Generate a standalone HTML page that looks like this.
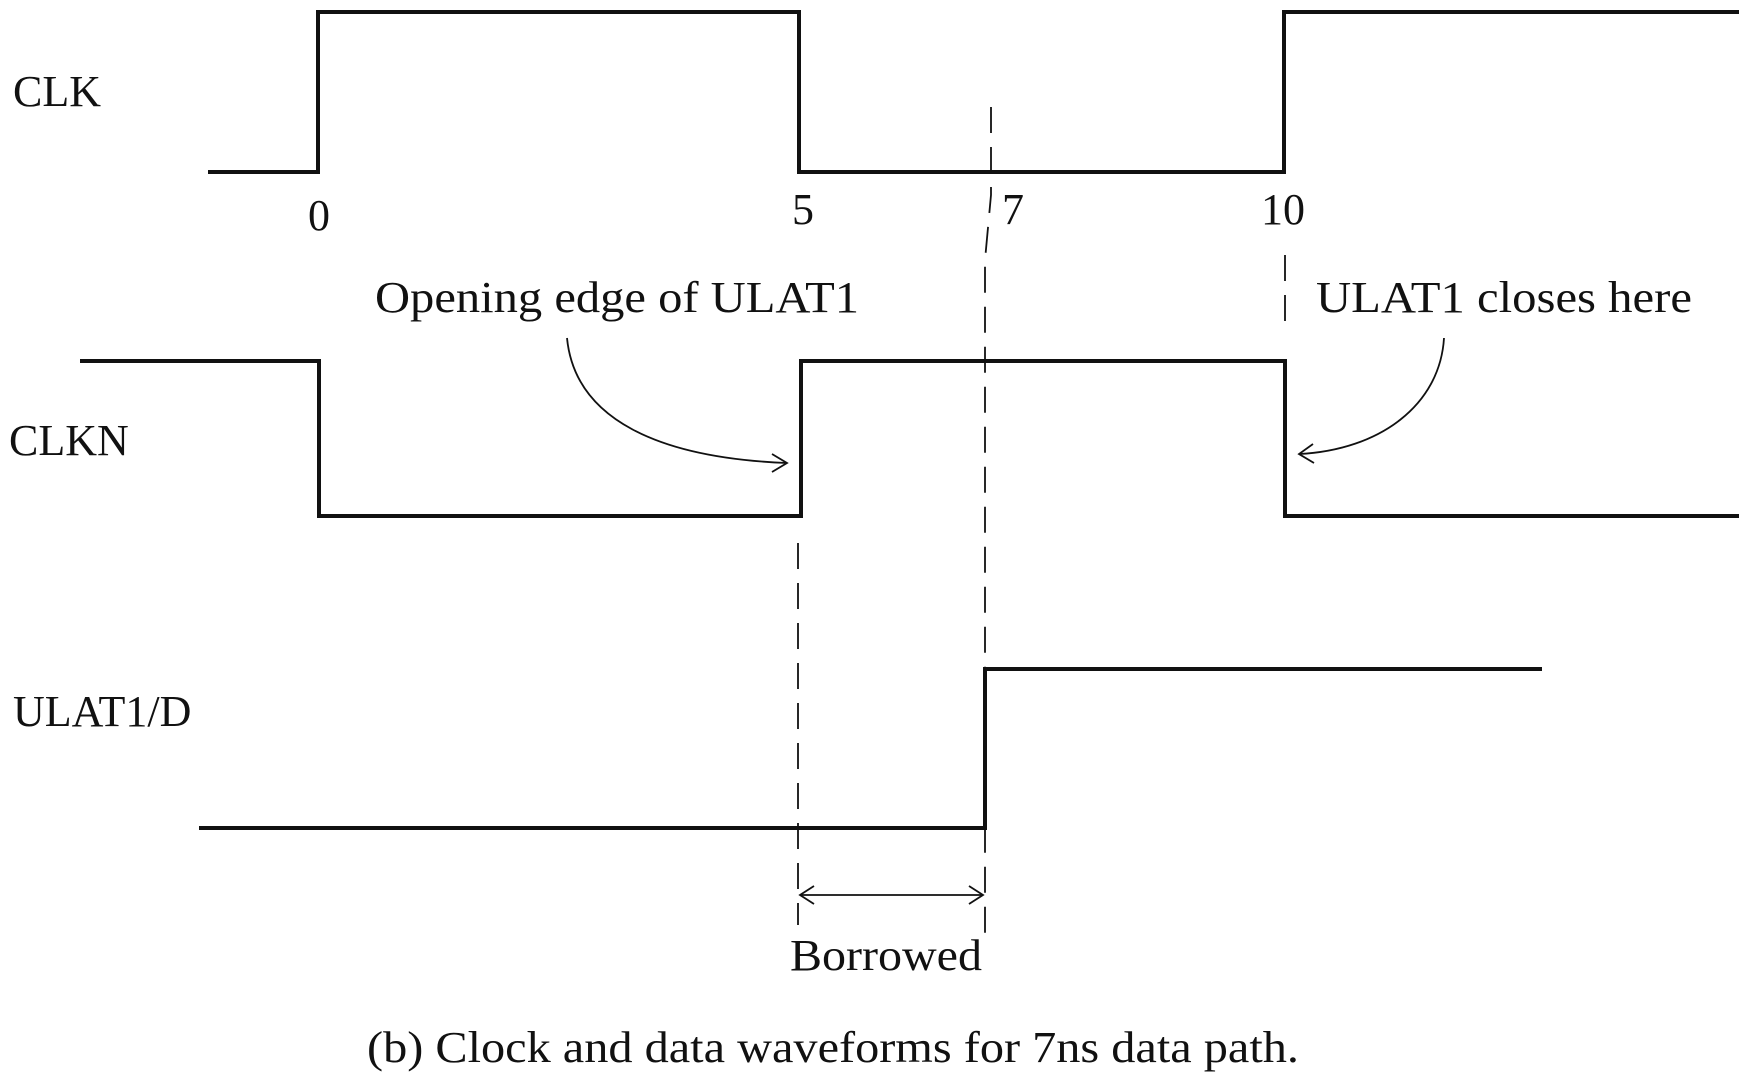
<!DOCTYPE html>
<html><head><style>
html,body{margin:0;padding:0;background:#fff;}
svg{display:block;}
text{font-family:"Liberation Serif",serif;fill:#111;}
</style></head><body>
<svg width="1739" height="1080" viewBox="0 0 1739 1080" xmlns="http://www.w3.org/2000/svg">
<g fill="none" stroke="#111" stroke-width="4">
<polyline points="208,172 318,172 318,12 799,12 799,172 1284,172 1284,12 1739,12"/>
<polyline points="80,361 319,361 319,516 801,516 801,361 1285,361 1285,516 1739,516"/>
<polyline points="199,828 985,828 985,669 1542,669"/>
</g>
<g fill="none" stroke="#111" stroke-width="1.8" stroke-dasharray="26,14">
<polyline points="991,107 991,195 985,260 985,942"/>
<line x1="798" y1="543" x2="798" y2="925"/>
<line x1="1285" y1="255" x2="1285" y2="335"/>
</g>
<g fill="none" stroke="#111" stroke-width="1.8">
<line x1="800" y1="895" x2="983" y2="895"/>
<polyline points="814,886 800,895 814,904"/>
<polyline points="969,886 983,895 969,904"/>
<path d="M567,338 C575,420 660,458 787,463"/>
<polyline points="772,454 787,463 772,472"/>
<path d="M1444,338 C1440,405 1380,450 1299,454"/>
<polyline points="1313,444 1299,454 1314,463"/>
</g>
<g font-size="44">
<text x="13" y="106">CLK</text>
<text x="9" y="455">CLKN</text>
<text x="13" y="726">ULAT1/D</text>
<text x="319" y="230" text-anchor="middle">0</text>
<text x="803" y="224" text-anchor="middle">5</text>
<text x="1013" y="224" text-anchor="middle">7</text>
<text x="1283" y="224" text-anchor="middle">10</text>
<text x="375" y="312" textLength="484" lengthAdjust="spacingAndGlyphs">Opening edge of ULAT1</text>
<text x="1316" y="312" textLength="376" lengthAdjust="spacingAndGlyphs">ULAT1 closes here</text>
<text x="790" y="970" textLength="192" lengthAdjust="spacingAndGlyphs">Borrowed</text>
<text x="367" y="1062" textLength="932" lengthAdjust="spacingAndGlyphs">(b) Clock and data waveforms for 7ns data path.</text>
</g>
</svg>
</body></html>
